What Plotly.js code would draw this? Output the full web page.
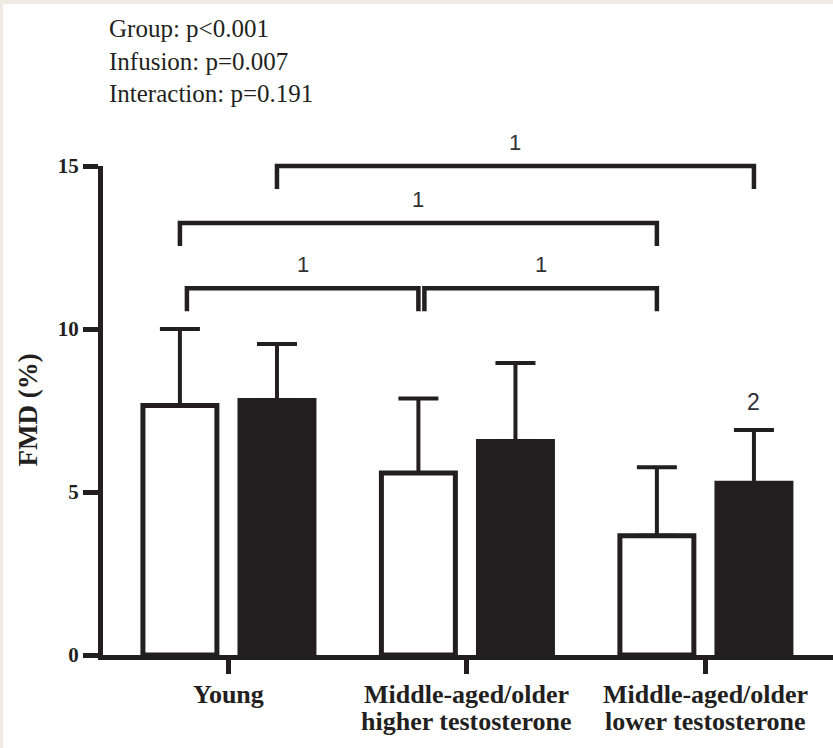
<!DOCTYPE html>
<html>
<head>
<meta charset="utf-8">
<script src="https://cdn.plot.ly/plotly-3.0.1.min.js"></script>
<style>
  html, body { margin: 0; padding: 0; background: #efebe3; }
  #chart { position: absolute; left: 3px; top: 4px; width: 830px; height: 744px; background: #ffffff; }
</style>
</head>
<body>
<div id="chart"></div>
<script>
// ---- data ----
const categories = ['Young', 'Middle-aged/older\nhigher testosterone', 'Middle-aged/older\nlower testosterone'];
const seriesNames = ['Saline', 'Vitamin C'];
const salineMean = [7.65, 5.58, 3.66];
const salineSD = [2.35, 2.29, 2.10];
const vitcMean = [7.81, 6.55, 5.27];
const vitcSD = [1.73, 2.41, 1.63];
const yTickValues = [0, 5, 10, 15];
const statLines = ['Group: p<0.001', 'Infusion: p=0.007', 'Interaction: p=0.191'];
// significance brackets: [group, series] -> [group, series]
const bracketFromGroup = [0, 0, 0, 1];
const bracketFromSeries = [1, 0, 0, 0];
const bracketToGroup = [2, 2, 1, 2];
const bracketToSeries = [1, 0, 0, 0];
const bracketLevel = [15, 13.25, 11.25, 11.25];
const bracketLabels = ['1', '1', '1', '1'];
const vitcMarkGroup = 2;
const vitcMarkLabel = '2';

// ---- styling / layout ----
const ink = '#231f20';
const bargap = 0.186;
const bargroupgap = 0.238;
const slot = (1 - bargap) / 2;
const xRange = [-0.526, 2.535];
const yRange = [0, 15];
const plotW = 830 - 100 - 0;
const pxPerX = plotW / (xRange[1] - xRange[0]);
const bracketNudgePx = [0, 0, 7, 6];
const legPx = 23;

const xs = categories.map((c, i) => i);
const barX = (g, s) => g + (s === 0 ? -1 : 1) * slot / 2;
const yFrac = v => (v - yRange[0]) / (yRange[1] - yRange[0]);

const traces = [
  {
    type: 'bar', name: seriesNames[0], x: xs, y: salineMean,
    marker: { color: '#ffffff', line: { color: ink, width: 5 } },
    error_y: { type: 'data', symmetric: false, array: salineSD, arrayminus: salineSD.map(() => 0),
               color: ink, thickness: 4, width: 20 },
    hoverinfo: 'y+name'
  },
  {
    type: 'bar', name: seriesNames[1], x: xs, y: vitcMean,
    marker: { color: ink, line: { color: ink, width: 5 } },
    error_y: { type: 'data', symmetric: false, array: vitcSD, arrayminus: vitcSD.map(() => 0),
               color: ink, thickness: 4, width: 20 },
    hoverinfo: 'y+name'
  }
];

const shapes = [];
const annotations = [];
const legFrac = legPx / 489;

bracketLevel.forEach((lvl, i) => {
  const x1 = barX(bracketFromGroup[i], bracketFromSeries[i]) + bracketNudgePx[i] / pxPerX;
  const x2 = barX(bracketToGroup[i], bracketToSeries[i]);
  const yt = yFrac(lvl);
  const yb = yt - legFrac;
  shapes.push({
    type: 'path', xref: 'x', yref: 'paper',
    path: `M ${x1},${yb} L ${x1},${yt} L ${x2},${yt} L ${x2},${yb}`,
    line: { color: ink, width: 4.5 }
  });
  annotations.push({
    xref: 'x', yref: 'paper', x: (x1 + x2) / 2, y: yt, yanchor: 'middle', xanchor: 'center',
    yshift: 24, showarrow: false, text: bracketLabels[i],
    font: { family: 'Liberation Sans, Arial, sans-serif', size: 22, color: '#333333' }
  });
});

annotations.push({
  xref: 'x', yref: 'y', x: barX(vitcMarkGroup, 1), y: vitcMean[vitcMarkGroup] + vitcSD[vitcMarkGroup],
  yanchor: 'middle', xanchor: 'center', yshift: 28, showarrow: false, text: vitcMarkLabel,
  font: { family: 'Liberation Sans, Arial, sans-serif', size: 23, color: '#2e2e38' }
});

// statistics text (top-left)
annotations.push({
  xref: 'paper', yref: 'paper', x: 0, y: 1, xanchor: 'left', yanchor: 'middle', align: 'left',
  xshift: 4, yshift: 105, showarrow: false, text: statLines.join('<br>'),
  font: { family: 'Liberation Serif, Times New Roman, serif', size: 25, color: ink }
});

// category labels
categories.forEach((c, i) => {
  c.split('\n').forEach((line, j) => {
    annotations.push({
      xref: 'x', yref: 'paper', x: i, y: 0, xanchor: 'center', yanchor: 'middle',
      yshift: -39 - 27 * j, showarrow: false, text: line,
      font: { family: 'Liberation Serif, Times New Roman, serif', size: 26, color: ink, weight: 'bold' }
    });
  });
});

// y-axis title
annotations.push({
  xref: 'paper', yref: 'paper', x: 0, y: 0.5, xanchor: 'center', yanchor: 'middle',
  xshift: -76, textangle: -90, showarrow: false, text: 'FMD (%)',
  font: { family: 'Liberation Serif, Times New Roman, serif', size: 27, color: ink, weight: 'bold' }
});

const layout = {
  width: 830, height: 744,
  margin: { l: 100, r: 0, t: 162, b: 93, pad: 0 },
  paper_bgcolor: '#ffffff', plot_bgcolor: '#ffffff',
  showlegend: false,
  barmode: 'group', bargap: bargap, bargroupgap: bargroupgap,
  xaxis: {
    range: xRange, tickvals: xs, showticklabels: false,
    showline: true, linewidth: 5, linecolor: ink,
    ticks: 'outside', ticklen: 14, tickwidth: 5, tickcolor: ink,
    showgrid: false, zeroline: false, fixedrange: true
  },
  yaxis: {
    range: yRange, tickvals: yTickValues,
    showline: true, linewidth: 5, linecolor: ink,
    ticks: 'outside', ticklen: 15, tickwidth: 5, tickcolor: ink,
    tickfont: { family: 'Liberation Serif, Times New Roman, serif', size: 21, color: ink, weight: 'bold' },
    showgrid: false, zeroline: false, fixedrange: true
  },
  shapes: shapes,
  annotations: annotations
};

Plotly.newPlot('chart', traces, layout, { displayModeBar: false, staticPlot: true });
</script>
</body>
</html>
